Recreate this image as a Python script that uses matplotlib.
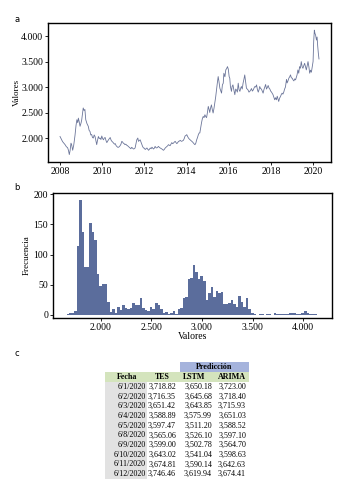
import numpy as np
import matplotlib
matplotlib.use("Agg")
import matplotlib.pyplot as plt
from matplotlib.ticker import FuncFormatter
from matplotlib.patches import Rectangle

plt.rcParams['font.family'] = ['Liberation Serif', 'DejaVu Serif']

# --- a: serie de tiempo (años decimales)
t = [2008.00, 2008.06, 2008.12, 2008.18, 2008.24, 2008.30, 2008.36, 2008.40, 2008.44, 2008.48,
     2008.52, 2008.55, 2008.60, 2008.65, 2008.71, 2008.76, 2008.80, 2008.84, 2008.87, 2008.91,
     2008.95, 2009.00, 2009.03, 2009.07, 2009.10, 2009.14, 2009.18, 2009.22, 2009.28, 2009.34,
     2009.38, 2009.42, 2009.46, 2009.50, 2009.54, 2009.58, 2009.62, 2009.66, 2009.70, 2009.74,
     2009.78, 2009.82, 2009.86, 2009.90, 2009.94, 2009.98, 2010.02, 2010.06, 2010.10, 2010.14,
     2010.18, 2010.22, 2010.26, 2010.30, 2010.34, 2010.38, 2010.42, 2010.46, 2010.50, 2010.54,
     2010.58, 2010.62, 2010.66, 2010.69, 2010.73, 2010.77, 2010.81, 2010.85, 2010.89, 2010.93,
     2010.97, 2011.00, 2011.04, 2011.08, 2011.12, 2011.16, 2011.20, 2011.24, 2011.28, 2011.32,
     2011.36, 2011.40, 2011.44, 2011.48, 2011.52, 2011.56, 2011.60, 2011.64, 2011.69, 2011.72,
     2011.76, 2011.80, 2011.84, 2011.88, 2011.92, 2011.96, 2012.00, 2012.04, 2012.08, 2012.12,
     2012.16, 2012.20, 2012.24, 2012.28, 2012.32, 2012.36, 2012.40, 2012.43, 2012.47, 2012.51,
     2012.55, 2012.59, 2012.63, 2012.67, 2012.71, 2012.75, 2012.79, 2012.83, 2012.87, 2012.91,
     2012.95, 2012.99, 2013.03, 2013.07, 2013.11, 2013.14, 2013.18, 2013.22, 2013.26, 2013.30,
     2013.34, 2013.38, 2013.42, 2013.46, 2013.50, 2013.54, 2013.58, 2013.62, 2013.66, 2013.70,
     2013.74, 2013.77, 2013.81, 2013.85, 2013.89, 2013.93, 2013.97, 2014.01, 2014.05, 2014.09,
     2014.13, 2014.17, 2014.21, 2014.25, 2014.29, 2014.33, 2014.37, 2014.40, 2014.44, 2014.48,
     2014.52, 2014.56, 2014.60, 2014.63, 2014.67, 2014.71, 2014.75, 2014.79, 2014.83, 2014.87,
     2014.91, 2014.95, 2014.99, 2015.03, 2015.07, 2015.10, 2015.14, 2015.18, 2015.22, 2015.26,
     2015.30, 2015.34, 2015.38, 2015.42, 2015.46, 2015.50, 2015.54, 2015.58, 2015.62, 2015.66,
     2015.70, 2015.74, 2015.77, 2015.82, 2015.86, 2015.90, 2015.94, 2015.98, 2016.02, 2016.05,
     2016.08, 2016.13, 2016.16, 2016.20, 2016.24, 2016.29, 2016.33, 2016.37, 2016.41, 2016.45,
     2016.49, 2016.53, 2016.57, 2016.60, 2016.64, 2016.68, 2016.72, 2016.76, 2016.80, 2016.84,
     2016.88, 2016.92, 2016.96, 2017.00, 2017.04, 2017.08, 2017.12, 2017.16, 2017.20, 2017.24,
     2017.28, 2017.32, 2017.36, 2017.40, 2017.44, 2017.47, 2017.51, 2017.55, 2017.59, 2017.63,
     2017.67, 2017.71, 2017.75, 2017.79, 2017.83, 2017.87, 2017.91, 2017.95, 2017.99, 2018.03,
     2018.07, 2018.10, 2018.14, 2018.18, 2018.22, 2018.26, 2018.30, 2018.34, 2018.37, 2018.41,
     2018.45, 2018.49, 2018.53, 2018.57, 2018.61, 2018.65, 2018.69, 2018.74, 2018.77, 2018.81,
     2018.85, 2018.89, 2018.93, 2018.97, 2019.01, 2019.05, 2019.09, 2019.13, 2019.17, 2019.20,
     2019.24, 2019.28, 2019.32, 2019.36, 2019.40, 2019.44, 2019.48, 2019.52, 2019.56, 2019.60,
     2019.64, 2019.68, 2019.72, 2019.76, 2019.80, 2019.84, 2019.88, 2019.92, 2019.96, 2020.00,
     2020.03, 2020.06, 2020.09, 2020.12, 2020.16, 2020.19, 2020.22, 2020.25, 2020.28]
valores = [2030, 1980, 1930, 1900, 1870, 1830, 1810, 1760, 1675, 1760,
           1900, 1870, 1760, 1860, 2050, 2250, 2360, 2300, 2390, 2320,
           2230, 2300, 2360, 2500, 2590, 2540, 2560, 2360, 2280, 2230,
           2150, 2130, 2060, 2070, 2010, 2000, 2060, 2030, 1950, 1870,
           1960, 2030, 1990, 2000, 1970, 2040, 1990, 1965, 2000, 2010,
           1950, 1910, 1940, 1965, 1990, 2010, 1960, 1935, 1920, 1900,
           1880, 1890, 1850, 1836, 1820, 1818, 1830, 1850, 1880, 1935,
           1920, 1900, 1890, 1870, 1880, 1860, 1850, 1836, 1820, 1805,
           1790, 1818, 1800, 1785, 1790, 1805, 1880, 1965, 2000, 1935,
           1950, 1965, 1920, 1870, 1830, 1805, 1800, 1775, 1790, 1805,
           1780, 1760, 1780, 1805, 1790, 1820, 1800, 1785, 1800, 1836,
           1810, 1805, 1820, 1836, 1815, 1805, 1795, 1785, 1770, 1760,
           1780, 1805, 1820, 1836, 1850, 1870, 1860, 1850, 1880, 1910,
           1890, 1900, 1920, 1935, 1910, 1890, 1910, 1935, 1940, 1955,
           1940, 1935, 1945, 1955, 1990, 2040, 2050, 2066, 2030, 2000,
           1980, 1965, 1950, 1935, 1920, 1900, 1880, 1870, 1900, 1965,
           2010, 2066, 2100, 2100, 2200, 2300, 2380, 2423, 2400, 2456,
           2420, 2400, 2500, 2620, 2560, 2500, 2590, 2650, 2560, 2490,
           2580, 2684, 2800, 2944, 3080, 3205, 3100, 2977, 2930, 2880,
           3042, 3075, 3270, 3200, 3336, 3360, 3400, 3350, 3205, 3172,
           3010, 2915, 3010, 3042, 2950, 2850, 2960, 2940, 2900, 3075,
           2950, 2915, 2980, 3010, 2960, 3075, 3150, 3237, 3100, 2977,
           2960, 2940, 2900, 2915, 2940, 2970, 2920, 2940, 2980, 3010,
           3000, 3042, 2950, 2900, 2950, 3010, 2970, 2960, 2920, 2880,
           2950, 3000, 3050, 2960, 2990, 3030, 2980, 2960, 2920, 2900,
           2870, 2850, 2800, 2750, 2790, 2749, 2820, 2760, 2717, 2780,
           2810, 2850, 2880, 2860, 2900, 2960, 3000, 3150, 3080, 3120,
           3173, 3200, 3238, 3180, 3173, 3140, 3120, 3160, 3140, 3180,
           3237, 3335, 3270, 3400, 3368, 3498, 3400, 3367, 3420, 3465,
           3400, 3335, 3420, 3498, 3400, 3270, 3330, 3290, 3400, 3500,
           3900, 4115, 4050, 4018, 3920, 3980, 3800, 3660, 3550]
anios_ticks = [2008, 2010, 2012, 2014, 2016, 2018, 2020]
valores_ticks = [2000, 2500, 3000, 3500, 4000]

# --- b: histograma (bordes de 25 en 25 desde 1660, frecuencias leidas)
borde_inicial = 1660
ancho_bin = 25
frecuencias = [1, 3, 4, 6, 115, 190, 137, 80, 79, 152,
               137, 124, 68, 48, 52, 52, 22, 5, 10, 4,
               14, 8, 16, 12, 10, 12, 20, 16, 16, 28,
               12, 8, 6, 14, 10, 20, 16, 10, 3, 5,
               2, 4, 6, 2, 10, 12, 28, 30, 60, 62,
               82, 72, 60, 64, 56, 25, 36, 47, 30, 40,
               36, 38, 18, 18, 20, 25, 18, 14, 32, 22,
               14, 28, 10, 4, 1, 0, 2, 1, 0, 2,
               1, 0, 3, 1, 1, 2, 2, 2, 4, 4,
               3, 2, 2, 3, 7, 3, 1, 1, 1, 0]
frec_ticks = [0, 50, 100, 150, 200]
hist_ticks = [2000, 2500, 3000, 3500, 4000]

# --- c: tabla de predicciones
fechas = ["6/1/2020", "6/2/2020", "6/3/2020", "6/4/2020", "6/5/2020",
          "6/8/2020", "6/9/2020", "6/10/2020", "6/11/2020", "6/12/2020"]
tes = [3718.82, 3716.35, 3651.42, 3588.89, 3597.47, 3565.06, 3599.00, 3643.02, 3674.81, 3746.46]
lstm = [3650.18, 3645.68, 3643.85, 3575.99, 3511.20, 3526.10, 3502.78, 3541.04, 3590.14, 3619.94]
arima = [3723.00, 3718.40, 3715.93, 3651.03, 3588.52, 3597.10, 3564.70, 3598.63, 3642.63, 3674.41]
columnas = ["Fecha", "TES", "LSTM", "ARIMA"]

W, H = 338, 484
fig = plt.figure(figsize=(W / 100, H / 100), dpi=100)

def caja(l, t_, r, b):
    return [l / W, 1 - b / H, (r - l) / W, (b - t_) / H]

miles = FuncFormatter(lambda v, p: f"{v:,.0f}".replace(",", "."))

# panel a
ax1 = fig.add_axes(caja(48, 23, 331, 162))
ax1.plot(t, valores, color='#6b7599', lw=0.6)
ax1.set_xlim(2007.43, 2020.85)
ax1.set_ylim(1530, 4255)
ax1.set_xticks(anios_ticks)
ax1.set_yticks(valores_ticks)
ax1.yaxis.set_major_formatter(miles)
ax1.set_ylabel("Valores", fontsize=6.5, labelpad=0)
ax1.tick_params(labelsize=7, length=2, width=0.6, pad=1.5)
for s in ax1.spines.values():
    s.set_linewidth(1)
fig.text(14 / W, 1 - 19 / H, "a", fontsize=6, family='DejaVu Sans', va='center')

# panel b
ax2 = fig.add_axes(caja(53, 193, 332, 318))
ax2.bar(borde_inicial + ancho_bin * np.arange(len(frecuencias)), frecuencias,
        width=ancho_bin, align='edge', color='#5b6d9c', linewidth=0)
ax2.set_xlim(1525, 4287)
ax2.set_ylim(-5, 202)
ax2.set_xticks(hist_ticks)
ax2.set_yticks(frec_ticks)
ax2.xaxis.set_major_formatter(miles)
ax2.set_xlabel("Valores", fontsize=7, labelpad=0)
ax2.set_ylabel("Frecuencia", fontsize=6.5, labelpad=2)
ax2.tick_params(labelsize=7, length=2, width=0.6, pad=1.5)
for s in ax2.spines.values():
    s.set_linewidth(1)
fig.text(14 / W, 1 - 188 / H, "b", fontsize=6, family='DejaVu Sans', va='center')

# panel c: tabla dibujada en coordenadas de pixel
ax3 = fig.add_axes([0, 0, 1, 1])
ax3.set_xlim(0, W)
ax3.set_ylim(H, 0)
ax3.axis('off')
fig.text(14 / W, 1 - 354 / H, "c", fontsize=6, family='DejaVu Sans', va='center')

x0, x_fecha, x_tes, x_lstm, x_arima = 105, 147, 180, 214, 249
top_pred, top_head, top_rows, fila = 362, 372, 382, 9.7
ax3.add_patch(Rectangle((x_tes, top_pred), x_arima - x_tes, top_head - top_pred,
                        color='#a5b3dc', lw=0))
ax3.add_patch(Rectangle((x0, top_head), x_arima - x0, top_rows - top_head,
                        color='#d4e4bd', lw=0))
ax3.add_patch(Rectangle((x0, top_rows), x_fecha - x0, fila * len(fechas),
                        color='#e2e2e2', lw=0))
ax3.text((x_tes + x_arima) / 2, (top_pred + top_head) / 2, "Predicción",
         fontsize=5.8, weight='bold', ha='center', va='center')
centros = [127, 162, 194, 232]
for c, nombre in zip(centros, columnas):
    ax3.text(c, (top_head + top_rows) / 2, nombre, fontsize=5.8, weight='bold',
             ha='center', va='center')
bordes_der = [x_fecha - 1, x_tes - 4, x_lstm - 2, x_arima - 3]
for i in range(len(fechas)):
    y = top_rows + fila * (i + 0.5)
    celdas = [fechas[i], f"{tes[i]:,.2f}", f"{lstm[i]:,.2f}", f"{arima[i]:,.2f}"]
    for xr, txt in zip(bordes_der, celdas):
        ax3.text(xr, y, txt, fontsize=5.8, ha='right', va='center')

fig.savefig("out.png", dpi=100)
